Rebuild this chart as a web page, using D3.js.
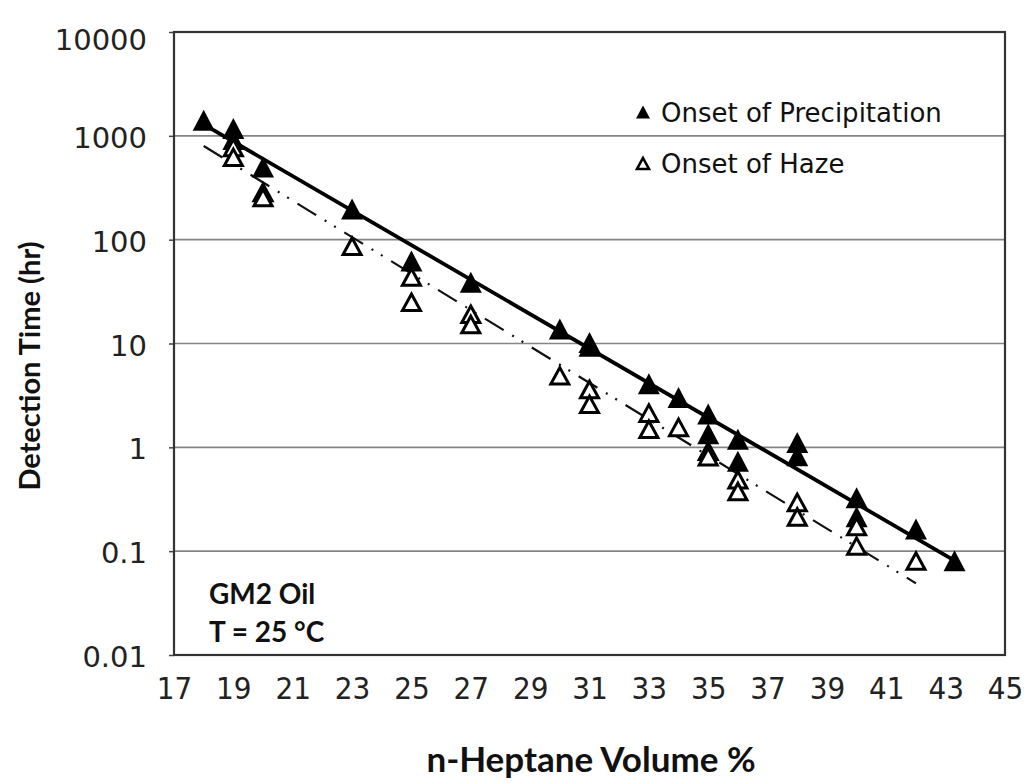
<!DOCTYPE html>
<html><head><meta charset="utf-8">
<script src="https://cdn.jsdelivr.net/npm/d3@7"></script>
<style>body{margin:0;background:#fff}</style>
</head><body><svg id="c" width="1026" height="783"></svg>
<script>
// ---- data ----
const xTicks = [17,19,21,23,25,27,29,31,33,35,37,39,41,43,45];
const yTicks = [0.01,0.1,1,10,100,1000,10000];
const yTickLabels = ["0.01","0.1","1","10","100","1000","10000"];

const precipX = [18,19,19,20,23,25,27,30,31,31,33,34,35,35,36,36,38,38,40,40,42,43.3];
const precipY = [1380,1150,900,490,193,61,38,13.5,10,9.2,4.0,2.95,2.05,1.32,1.17,0.72,1.09,0.81,0.32,0.21,0.16,0.079];

const hazeX = [19,19,20,20,23,25,25,27,27,30,31,31,33,33,34,35,35,36,36,38,38,40,40,42];
const hazeY = [760,610,280,250,85,43,24.5,18.8,15,4.8,3.55,2.55,2.1,1.47,1.53,0.9,0.8,0.48,0.37,0.29,0.21,0.17,0.11,0.079];

const precipTrendX = [18,43.3];
const precipTrendY = [1288,0.081];
const hazeTrendX = [18,42];
const hazeTrendY = [798,0.049];

const legendLabels = ["Onset of Precipitation","Onset of Haze"];
const noteLines = ["GM2 Oil","T = 25 °C"];

// ---- layout ----
const L=174, T=32, W=831, H=623;
const svg=d3.select("#c");
const x=d3.scaleLinear().domain([17,45]).range([L,L+W]);
const y=d3.scaleLog().domain([0.01,10000]).range([T+H,T]);

// grid
svg.append("g").selectAll("line").data(yTicks.slice(1,-1)).join("line")
  .attr("x1",L).attr("x2",L+W).attr("y1",d=>y(d)).attr("y2",d=>y(d))
  .attr("stroke","#858585").attr("stroke-width",1.6);

// y axis
const yAxis=d3.axisLeft(y).tickValues(yTicks).tickFormat((d,i)=>yTickLabels[i]).tickSize(5).tickPadding(22);
const gy=svg.append("g").attr("transform",`translate(${L},0)`).call(yAxis);
gy.select(".domain").remove();
gy.selectAll(".tick line").attr("stroke","#444").attr("stroke-width",1.5);
gy.selectAll(".tick text").attr("font-family","DejaVu Sans, Verdana, sans-serif").attr("font-size",29).attr("fill","#222")
  .attr("dy",(d,i)=>i===yTicks.length-1?"0.62em":"0.4em");

// x axis (labels only)
const xAxis=d3.axisBottom(x).tickValues(xTicks).tickSize(0).tickPadding(22);
const gx=svg.append("g").attr("transform",`translate(0,${T+H})`).call(xAxis);
gx.select(".domain").remove();
gx.selectAll(".tick text").attr("font-family","Liberation Sans Narrow, DejaVu Sans Condensed, DejaVu Sans, sans-serif").attr("font-size",31).attr("fill","#222");

// frame
svg.append("rect").attr("x",L).attr("y",T).attr("width",W).attr("height",H)
  .attr("fill","none").attr("stroke","#333").attr("stroke-width",2.2);

// trend lines
const line=d3.line().x(d=>x(d[0])).y(d=>y(d[1]));
svg.append("path").datum(hazeTrendX.map((v,i)=>[v,hazeTrendY[i]])).attr("d",line)
  .attr("fill","none").attr("stroke","#111").attr("stroke-width",2.2).attr("stroke-dasharray","22,10,2,9,2,10");
svg.append("path").datum(precipTrendX.map((v,i)=>[v,precipTrendY[i]])).attr("d",line)
  .attr("fill","none").attr("stroke","#000").attr("stroke-width",3.8);

// markers
const filledTri="M0,-11.5L11,9.5L-11,9.5Z";
const openTri="M0,-9L9,7.5L-9,7.5Z";
svg.append("g").selectAll("path").data(precipX.map((v,i)=>[v,precipY[i]])).join("path")
  .attr("d",filledTri).attr("transform",d=>`translate(${x(d[0])},${y(d[1])})`).attr("fill","#000");
svg.append("g").selectAll("path").data(hazeX.map((v,i)=>[v,hazeY[i]])).join("path")
  .attr("d",openTri).attr("transform",d=>`translate(${x(d[0])},${y(d[1])})`)
  .attr("fill","#fff").attr("stroke","#000").attr("stroke-width",3);

// legend
const lg=svg.append("g");
lg.append("path").attr("d","M0,-7.5L7,5.5L-7,5.5Z").attr("transform","translate(643,113)").attr("fill","#000");
lg.append("path").attr("d","M0,-6L6,5L-6,5Z").attr("transform","translate(643,164)").attr("fill","#fff").attr("stroke","#000").attr("stroke-width",2.6);
lg.selectAll("text").data(legendLabels).join("text")
  .attr("x",661).attr("y",(d,i)=>122+i*51).text(d=>d)
  .attr("font-family","DejaVu Sans, Verdana, sans-serif").attr("font-size",26).attr("fill","#111");

// note
svg.append("g").selectAll("text").data(noteLines).join("text")
  .attr("x",209).attr("y",(d,i)=>604+i*38).text(d=>d)
  .attr("font-family","Lato, Open Sans, sans-serif").attr("font-weight",700).attr("font-size",28).attr("fill","#111");

// axis titles
svg.append("text").attr("x",591).attr("y",772).attr("text-anchor","middle")
  .attr("font-family","Lato, Open Sans, sans-serif").attr("font-weight",700).attr("font-size",35).attr("fill","#111")
  .text("n-Heptane Volume %");
svg.append("text").attr("transform","translate(40,366) rotate(-90)").attr("text-anchor","middle")
  .attr("font-family","Lato, Open Sans, sans-serif").attr("font-weight",700).attr("font-size",29).attr("fill","#111")
  .text("Detection Time (hr)");
</script></body></html>
